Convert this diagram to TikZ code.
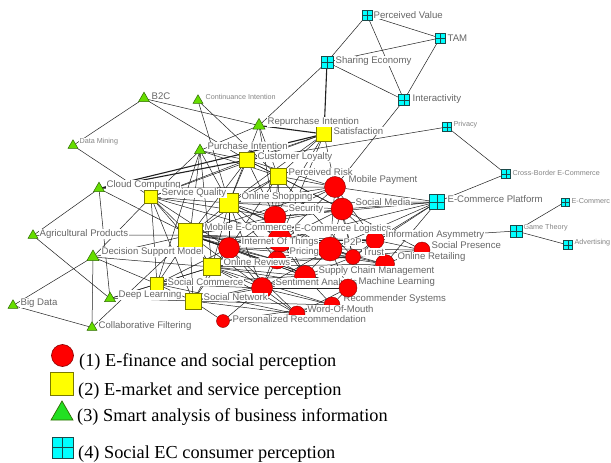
\documentclass[tikz,border=0pt]{standalone}
\usepackage{fontspec}
\setmainfont{Liberation Serif}
\newfontfamily\labfont{Liberation Sans}
\usetikzlibrary{shapes.geometric}
\pgfdeclarelayer{edges}
\pgfdeclarelayer{labels}
\pgfdeclarelayer{top}
\pgfsetlayers{edges,main,labels,top}
\definecolor{redfill}{HTML}{FF0000}
\definecolor{redline}{HTML}{8B0000}
\definecolor{yelfill}{HTML}{FFFF00}
\definecolor{yelline}{HTML}{7A7A00}
\definecolor{grnfill}{HTML}{66DD00}
\definecolor{grnline}{HTML}{2E6B00}
\definecolor{legfill}{HTML}{22E022}
\definecolor{cyafill}{HTML}{00FFFF}
\definecolor{cyaline}{HTML}{1A4A4A}
\definecolor{labgray}{HTML}{666666}
\definecolor{edgegray}{HTML}{202020}
\tikzset{
 rc/.style={circle, fill=redfill, draw=redline, line width=0.4pt, inner sep=0pt, outer sep=0pt, minimum size=#1},
 ys/.style={rectangle, fill=yelfill, draw=yelline, line width=0.6pt, inner sep=0pt, outer sep=0pt, minimum size=#1},
 gt/.style={regular polygon, regular polygon sides=3, fill=grnfill, draw=grnline, line width=0.5pt, inner sep=0pt, outer sep=0pt, minimum size=#1},
 cs/.style={rectangle, fill=cyafill, draw=cyaline, line width=0.6pt, inner sep=0pt, outer sep=0pt, minimum size=#1,
   path picture={\draw[cyaline, line width=0.6pt] (path picture bounding box.north) -- (path picture bounding box.south) (path picture bounding box.west) -- (path picture bounding box.east);}},
 lab/.style={anchor=west, fill=white, inner sep=0.4pt, text=labgray, font={\labfont\fontsize{9.6}{11}\selectfont}},
 slab/.style={lab, text=labgray!80, font={\labfont\fontsize{7.2}{8.5}\selectfont}},
 lnk/.style={draw=edgegray, line width=0.5pt},
 thk/.style={draw=edgegray, line width=1.1pt},
 legtext/.style={anchor=base west, inner sep=0pt, text=black, font={\fontsize{18.3}{20}\selectfont}},
}
\begin{document}
\begin{tikzpicture}[x=1pt,y=-1pt]
\useasboundingbox (0,0) rectangle (611,463);
% ---------- cyan nodes
\node[cs=10] (PV) at (367,15) {};
\node[cs=10] (TAM) at (440,38) {};
\node[cs=12] (SE) at (327,62) {};
\node[cs=11] (IN) at (404,100) {};
\node[cs=9] (PRV) at (447,127) {};
\node[cs=9] (CBE) at (506,174) {};
\node[cs=15] (ECP) at (437,202) {};
\node[cs=8] (ECX) at (565,202) {};
\node[cs=12] (GT) at (516,231) {};
\node[cs=9] (ADV) at (568,245) {};
% ---------- green nodes
\node[gt=12.7] (B2C) at (144,98.5) {};
\node[gt=11.5] (CI) at (198,100.5) {};
\node[gt=11.5] (DM) at (73,145.5) {};
\node[gt=14] (RI) at (259,125.5) {};
\node[gt=12.7] (PI) at (200,150.5) {};
\node[gt=12.7] (CC) at (99,188.5) {};
\node[gt=11.5] (AP) at (33,235.5) {};
\node[gt=14] (DSM) at (93,257) {};
\node[gt=12.7] (DL) at (110,298.5) {};
\node[gt=11.5] (BD) at (13,305.5) {};
\node[gt=11.5] (CF) at (92,327.5) {};
% ---------- yellow nodes
\node[ys=15] (SAT) at (324,134) {};
\node[ys=15] (CL) at (247,160) {};
\node[ys=16] (PR) at (278,176) {};
\node[ys=13] (SQ) at (151,197) {};
\node[ys=19] (OS) at (229,203) {};
\node[ys=24] (MEC) at (190,235) {};
\node[ys=17] (OR) at (212,267) {};
\node[ys=13] (SC) at (157,284) {};
\node[ys=16] (SN) at (193,301) {};
% ---------- red nodes
\node[rc=21] (MP) at (335,187) {};
\node[rc=22] (SM) at (342,209) {};
\node[rc=22] (SEC) at (275,217) {};
\node[rc=24] (ECL) at (280,240) {};
\node[rc=21] (IOT) at (229,248) {};
\node[rc=18] (PRC) at (277,260) {};
\node[rc=24] (P2P) at (330,249) {};
\node[rc=15] (TR) at (353,257) {};
\node[rc=18] (IA) at (375,240) {};
\node[rc=16] (SP) at (422,250) {};
\node[rc=19] (ORT) at (385,264) {};
\node[rc=21] (SCM) at (305,276) {};
\node[rc=21] (SA) at (262,288) {};
\node[rc=16] (RS) at (332,305) {};
\node[rc=16] (WOM) at (297,314) {};
\node[rc=13] (PREC) at (223,321) {};
\begin{pgfonlayer}{top}
\node[rc=18] (ML) at (348,288) {};
\node[lab] (lML) at (358,282) {Machine Learning};
\end{pgfonlayer}
% ---------- edges
\begin{pgfonlayer}{edges}
\fill[white] (0,0) rectangle (611,463);
\foreach \a/\b in {PV/SE, PV/TAM, PV/IN, TAM/SE, TAM/IN, SE/IN, SE/RI, IN/MP, PRV/CL, PRV/CBE, CBE/ECP, GT/ECX, GT/ADV, GT/IA,
 B2C/DM, B2C/RI, B2C/CL, DM/SQ, CI/OS, CI/PR, RI/PI, RI/PR, RI/OS, RI/SEC, CC/AP, CC/DL, CC/MEC, CC/MP, AP/DL, AP/MEC,
 DSM/BD, DSM/CF, DSM/SC, DSM/SQ, DSM/MEC, DSM/OR, BD/CF, CF/MEC, DL/SC, DL/SN, DL/OR,
 PI/SC, PI/SQ, PI/OS, PI/MEC, PI/CL, PI/PR, PI/OR,
 ECP/MP, ECP/SM, ECP/IA, ECP/ECL, ECP/P2P, ECP/TR, ECP/ORT, ECP/SEC, ECP/OS,
 SAT/CL, SAT/PR, SAT/OS, SAT/MP, SAT/SEC, SAT/SQ, SAT/ECL,
 CL/OS, CL/PR, CL/SQ, CL/MEC, CL/SEC, CL/MP, CL/SM,
 PR/OS, PR/MP, PR/SM, PR/SEC, PR/ECL, PR/MEC, PR/IOT, PR/TR,
 SQ/OS, SQ/MEC, SQ/OR, SQ/SC, SQ/SN, SQ/IOT, SQ/SEC,
 OS/MEC, OS/SEC, OS/MP, OS/SM, OS/IOT, OS/OR, OS/ECL, OS/P2P, OS/SA, OS/PRC,
 MEC/OR, MEC/SEC, MEC/ECL, MEC/PRC, MEC/P2P, MEC/SCM, MEC/SA, MEC/SN, MEC/SC, MEC/MP, MEC/SM, MEC/TR, MEC/ORT, MEC/ML,
 OR/IOT, OR/SA, OR/SCM, OR/P2P, OR/PRC, OR/SN, OR/SC, OR/WOM, OR/ML, OR/RS,
 SC/SN, SC/SA, SC/IOT, SC/WOM, SN/SA, SN/PREC, SN/WOM, SN/IOT, SN/SCM,
 MP/SM, MP/SEC, MP/ECL, MP/P2P, MP/IA, MP/TR, SM/SEC, SM/ECL, SM/P2P, SM/IA, SM/SP, SM/TR,
 SEC/IOT, SEC/ECL, SEC/P2P, SEC/PRC, ECL/IOT, ECL/P2P, ECL/SCM, ECL/IA,
 IOT/P2P, IOT/SCM, IOT/SA, IOT/PRC, IOT/TR, IOT/ML, PRC/P2P, PRC/SCM, PRC/TR,
 P2P/TR, P2P/IA, P2P/ORT, P2P/SCM, P2P/SP, P2P/ML, TR/IA, TR/ORT, TR/SP, TR/SCM,
 IA/SP, IA/ORT, ORT/SCM, ORT/SP, SCM/SA, SCM/ML, SCM/RS, SA/ML, SA/WOM, SA/RS, SA/PREC,
 ML/RS, ML/WOM, RS/WOM, RS/PREC, WOM/PREC,
 OR/TR, SQ/P2P, SC/SCM, SN/RS, IOT/WOM, MEC/IA, OS/TR, SEC/SCM, ECL/SA, P2P/SA, PRC/SA, OR/ORT}
 \draw[lnk] (\a) -- (\b);
\foreach \a/\b in {SE/SAT, SAT/CC, CC/CL, MEC/IOT, RI/SAT}
 \draw[thk] (\a) -- (\b);
\end{pgfonlayer}
% ---------- labels
\begin{pgfonlayer}{labels}
\node[lab] (lPV) at (373,15) {Perceived Value};
\node[lab] (lTAM) at (447,38) {TAM};
\node[lab] (lSE) at (335,61) {Sharing Economy};
\node[lab] (lIN) at (412,99) {Interactivity};
\node[slab] (lPRV) at (453,125) {Privacy};
\node[slab] (lCBE) at (512,173) {Cross-Border E-Commerce};
\node[lab] (lECP) at (447,199) {E-Commerce Platform};
\node[slab] (lECX) at (571,201) {E-Commerc};
\node[slab] (lGT) at (523,228) {Game Theory};
\node[slab] (lADV) at (574,243) {Advertising};
\node[lab] (lB2C) at (151,96) {B2C};
\node[slab] (lCI) at (205,97) {Continuance Intention};
\node[slab] (lDM) at (79,142) {Data Mining};
\node[lab] (lRI) at (267,122) {Repurchase Intention};
\node[lab] (lPI) at (207,146) {Purchase Intention};
\node[lab] (lCC) at (106,185) {Cloud Computing};
\node[lab] (lAP) at (39,234) {Agricultural Products};
\node[lab] (lDSM) at (101,252) {Decision Support Model};
\node[lab] (lBD) at (20,303) {Big Data};
\node[lab] (lCF) at (98,326) {Collaborative Filtering};
\node[lab] (lSAT) at (333,131) {Satisfaction};
\node[lab] (lCL) at (257,157) {Customer Loyalty};
\node[lab] (lPR) at (288,172) {Perceived Risk};
\node[lab] (lSQ) at (161,193) {Service Quality};
\node[lab] (lOS) at (241,197) {Online Shopping};
\node[lab] (lMP) at (348,180) {Mobile Payment};
\node[lab] (lSM) at (355,202) {Social Media};
\node[lab] (lSEC) at (288,209) {Security};
\node[lab] (lECL) at (294,229) {E-Commerce Logistics};
\node[lab] (lMEC) at (204,227) {Mobile E-Commerce};
\node[lab] (lIOT) at (241,242) {Internet Of Things};
\node[lab] (lPRC) at (289,252) {Pricing};
\node[lab] (lP2P) at (343,242) {P2P};
\node[lab] (lTR) at (362,252) {Trust};
\node[lab] (lIA) at (385,235) {Information Asymmetry};
\node[lab] (lSP) at (431,245) {Social Presence};
\node[lab] (lORT) at (397,257) {Online Retailing};
\node[lab] (lOR) at (223,262) {Online Reviews};
\node[lab] (lSCM) at (318,271) {Supply Chain Management};
\node[lab] (lSC) at (167,282) {Social Commerce};
\node[lab] (lSA) at (275,283) {Sentiment Analysis};
\node[lab] (lDL) at (118,295) {Deep Learning};
\node[lab] (lSN) at (203,297) {Social Network};
\node[lab] (lRS) at (343,299) {Recommender Systems};
\node[lab] (lWOM) at (307,309) {Word-Of-Mouth};
\node[lab] (lPREC) at (232,319) {Personalized Recommendation};
\end{pgfonlayer}
% ---------- legend
\node[rc=22, line width=0.6pt] (L1) at (62.5,355.5) {};
\node[legtext] (T1) at (79,366.5) {(1) E-finance and social perception};
\node[ys=23, line width=0.8pt] (L2) at (61.5,383.5) {};
\node[legtext] (T2) at (78,395) {(2) E-market and service perception};
\node[gt=25.4, fill=legfill, line width=0.7pt] (L3) at (62,413.7) {};
\node[legtext] (T3) at (77,421.5) {(3) Smart analysis of business information};
\node[cs=21, line width=0.8pt] (L4) at (62.5,447.5) {};
\node[legtext] (T4) at (78,458) {(4) Social EC consumer perception};
\end{tikzpicture}
\end{document}
